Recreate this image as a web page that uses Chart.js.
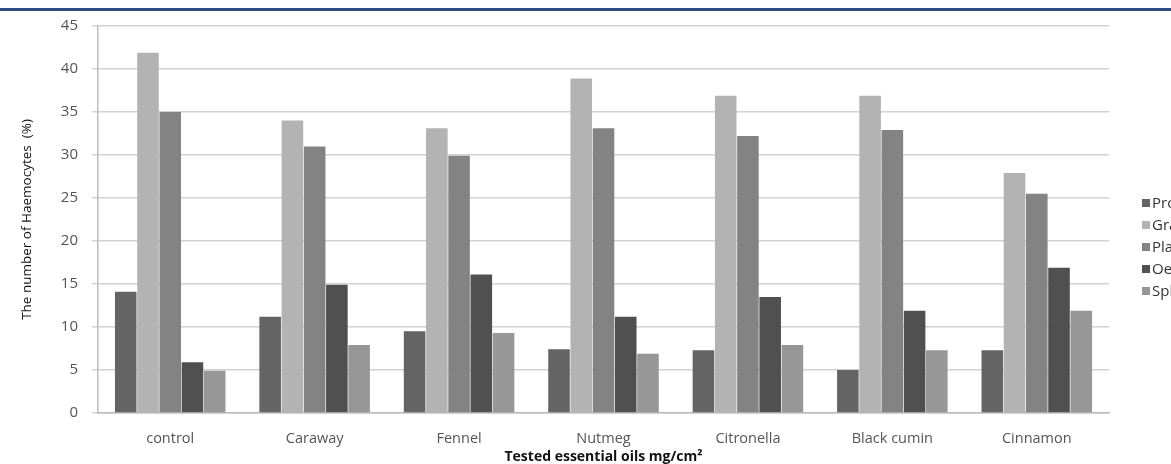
<!DOCTYPE html>
<html>
<head>
<meta charset="utf-8">
<script src="https://cdn.jsdelivr.net/npm/chart.js@4/dist/chart.umd.min.js"></script>
<style>
    html, body {
        margin: 0;
        padding: 0;
        background: #ffffff;
        overflow: hidden;
    }
    #wrap {
        position: relative;
        width: 1171px;
        height: 464px;
    }
    #topRule {
        position: absolute;
        left: 0;
        top: 8px;
        width: 1171px;
        height: 3px;
        background: #2d4e7e;
    }
</style>
</head>
<body>
<div id="wrap">
    <canvas id="haemocyteChart" width="1171" height="464"></canvas>
    <div id="topRule"></div>
</div>
<script>
const categories = ['control', 'Caraway', 'Fennel', 'Nutmeg', 'Citronella', 'Black cumin', 'Cinnamon'];

const seriesNames = ['Prohaemocytes', 'Granulocytes', 'Plasmatocytes', 'Oenocytoids', 'Spherulocytes'];

const prohaemocytes = [14.1, 11.2, 9.5, 7.4, 7.3, 5, 7.3];
const granulocytes = [41.9, 34, 33.1, 38.9, 36.9, 36.9, 27.9];
const plasmatocytes = [35, 31, 29.9, 33.1, 32.2, 32.9, 25.5];
const oenocytoids = [5.9, 14.9, 16.1, 11.2, 13.5, 11.9, 16.9];
const spherulocytes = [4.9, 7.9, 9.3, 6.9, 7.9, 7.3, 11.9];

const yTicks = [0, 5, 10, 15, 20, 25, 30, 35, 40, 45];

const seriesColors = ['#646464', '#b3b3b3', '#838383', '#505050', '#979797'];

const allSeries = [prohaemocytes, granulocytes, plasmatocytes, oenocytoids, spherulocytes];


// Legend drawn to the right of the plot, cut off by the page edge like the original.
const sideLegend = {
    id: 'sideLegend',
    afterDraw(chart) {
        const ctx = chart.ctx;
        const left = chart.chartArea.right + 33;
        const firstY = 203;
        const step = 22;

        ctx.save();
        ctx.font = '15px "Open Sans"';
        ctx.textBaseline = 'middle';
        chart.data.datasets.forEach((ds, i) => {
            const y = firstY + i * step;
            ctx.fillStyle = ds.backgroundColor;
            ctx.fillRect(left, y - 4, 8, 8);
            ctx.fillStyle = '#333333';
            ctx.fillText(ds.label, left + 10, y + 0.5);
        });
        ctx.restore();
    }
};


const datasets = [];
for (let i = 0; i < seriesNames.length; ++i) {
    datasets.push({
        label: seriesNames[i],
        data: allSeries[i],
        backgroundColor: seriesColors[i],
        borderWidth: 0,
        categoryPercentage: 0.77,
        barPercentage: 0.97
    });
}

const canvas = document.getElementById('haemocyteChart');

let config = {
    type: 'bar',
    data: {
        labels: categories,
        datasets: datasets
    },
    options: {
        responsive: false,
        animation: false,
        layout: {
            padding: { top: 26, right: 62, bottom: 0, left: 0 }
        },
        plugins: {
            legend: { display: false },
            tooltip: { enabled: false }
        },
        scales: {
            x: {
                grid: { display: false },
                border: { display: true, color: '#bcbcbc', width: 1.5 },
                ticks: {
                    color: '#555555',
                    padding: 9,
                    font: { family: 'Open Sans', size: 14.5 }
                },
                title: {
                    display: true,
                    text: 'Tested essential oils mg/cm²',
                    color: '#111111',
                    padding: { top: 0, bottom: -1 },
                    font: { family: 'Open Sans', size: 14, weight: 'bold' }
                },
                afterFit(scale) {
                    scale.height = 51;
                }
            },
            y: {
                min: 0,
                max: 45,
                afterBuildTicks(scale) {
                    scale.ticks = yTicks.map(v => ({ value: v }));
                },
                grid: {
                    color: '#d2d2d2',
                    lineWidth: 1.5,
                    tickLength: 6
                },
                border: { display: true, color: '#bcbcbc', width: 1.5 },
                ticks: {
                    color: '#555555',
                    padding: 14,
                    font: { family: 'Open Sans', size: 15 }
                },
                title: {
                    display: true,
                    text: 'The number of Haemocytes  (%)',
                    color: '#111111',
                    padding: { top: 19, bottom: 0 },
                    font: { family: 'Open Sans', size: 13.5 }
                },
                afterFit(scale) {
                    scale.width = 98;
                }
            }
        }
    },
    plugins: [sideLegend]
};

const chart = new Chart(canvas, config);
</script>
</body>
</html>
